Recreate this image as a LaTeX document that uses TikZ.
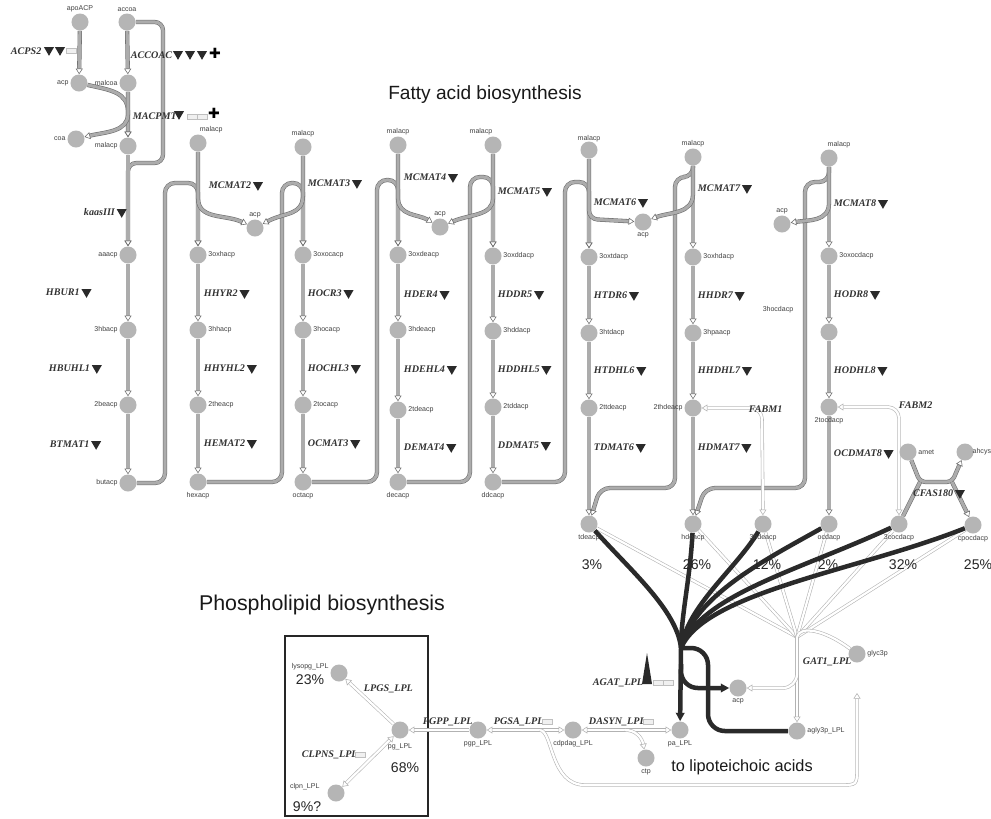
\documentclass[tikz,border=0pt]{standalone}
\usepackage{fontspec}
\setmainfont{Liberation Serif}
\setsansfont{Liberation Sans}
\newfontfamily\symfont{DejaVu Sans}
\usetikzlibrary{positioning,shapes.geometric,arrows.meta}
\definecolor{metgray}{HTML}{B5B5B5}
\definecolor{fluxdark}{HTML}{2A2A2A}
\pgfdeclarelayer{bg}
\pgfdeclarelayer{paper}
\pgfsetlayers{paper,bg,main}

\tikzset{
  met/.style={circle, fill=metgray, minimum size=0.425cm, inner sep=0pt},
  mlab/.style={font=\sffamily\fontsize{5}{5}\selectfont, text=black!75, inner sep=1pt},
  rxn/.style={draw=gray!85!black, double=gray!65, double distance=2.2pt, line width=0.4pt},
  rxnw/.style={draw=gray!60, double=white, double distance=1.6pt, line width=0.4pt},
  flux/.style={draw=fluxdark, line width=3.2pt},
  tip/.style={-{Triangle[open, length=4pt, width=5pt]}},
  tips/.style={{Triangle[open, length=4pt, width=5pt]}-{Triangle[open, length=4pt, width=5pt]}},
  ftip/.style={-{Triangle[length=6pt, width=6pt]}},
  enz/.style={font=\fontsize{7.2}{8}\selectfont\bfseries\itshape, text=black!80, inner sep=0.5pt, anchor=west},
  dtri/.style={regular polygon, regular polygon sides=3, shape border rotate=180, fill=fluxdark, minimum size=0.29cm, inner sep=0pt},
  enzd/.style={enz, label={[dtri, xshift=1.5pt]right:}},
  gbox/.style={draw=gray!50, fill=gray!12, minimum width=0.25cm, minimum height=0.12cm, inner sep=0pt},
  plusmark/.style={font=\symfont\fontsize{10}{10}\selectfont, inner sep=0pt},
  pct/.style={font=\sffamily\fontsize{10}{12}\selectfont, text=black!85},
  heading/.style={font=\sffamily\fontsize{13.6}{16}\selectfont, text=black!90}
}

\begin{document}
\begin{tikzpicture}[x=0.025cm, y=-0.025cm]
  \begin{pgfonlayer}{paper}
  \fill[white] (0,0) rectangle (991,818);
  \end{pgfonlayer}
  \useasboundingbox (0,0) rectangle (991,818);

  % headings
  \node[heading] (fattitle) at (485,95) {Fatty acid biosynthesis};
  \node[heading, font=\sffamily\fontsize{15.2}{18}\selectfont] (phostitle) at (322,605) {Phospholipid biosynthesis};
  \node[heading, font=\sffamily\fontsize{11.6}{14}\selectfont] (ltatext) at (742,767) {to lipoteichoic acids};

  % ---- column 1 (butyryl) ----
  \node[met, label={[mlab]above:apoACP}] (apoacp) at (80,22) {};
  \node[met, label={[mlab]above:accoa}] (accoa) at (127,22) {};
  \node[met, label={[mlab]left:acp}] (acpa) at (79,83) {};
  \node[met, label={[mlab]left:malcoa}] (malcoa) at (128,83) {};
  \node[met, label={[mlab]left:coa}] (coa) at (76,139) {};
  \node[met, label={[mlab]left:malacp}] (malacpa) at (128,146) {};
  \node[met, label={[mlab]left:aaacp}] (aaacp) at (128,255) {};
  \node[met, label={[mlab]left:3hbacp}] (hbacp) at (128,330) {};
  \node[met, label={[mlab]left:2beacp}] (beacp) at (128,405) {};
  \node[met, label={[mlab]left:butacp}] (butacp) at (128,483) {};

  % ---- column 2 (hexanoyl) ----
  \node[met, label={[mlab, xshift=0.33cm]above:malacp}] (malacpb) at (198,143) {};
  \node[met, label={[mlab]above:acp}] (acpb) at (255,228) {};
  \node[met, label={[mlab]right:3oxhacp}] (ohex) at (198,255) {};
  \node[met, label={[mlab]right:3hhacp}] (hhex) at (198,330) {};
  \node[met, label={[mlab]right:2theacp}] (thex) at (198,405) {};
  \node[met, label={[mlab]below:hexacp}] (hexacp) at (198,482) {};

  % ---- column 3 (octanoyl) ----
  \node[met, label={[mlab]above:malacp}] (malacpc) at (303,147) {};
  \node[met, label={[mlab]right:3oxocacp}] (ooct) at (303,255) {};
  \node[met, label={[mlab]right:3hocacp}] (hoct) at (303,330) {};
  \node[met, label={[mlab]right:2tocacp}] (toct) at (303,405) {};
  \node[met, label={[mlab]below:octacp}] (octacp) at (303,482) {};

  % ---- column 4 (decanoyl) ----
  \node[met, label={[mlab]above:malacp}] (malacpd) at (398,145) {};
  \node[met, label={[mlab]above:acp}] (acpc) at (440,227) {};
  \node[met, label={[mlab]right:3oxdeacp}] (odec) at (398,255) {};
  \node[met, label={[mlab]right:3hdeacp}] (hdec) at (398,330) {};
  \node[met, label={[mlab]right:2tdeacp}] (tdec) at (398,410) {};
  \node[met, label={[mlab]below:decacp}] (decacp) at (398,482) {};

  % ---- column 5 (dodecanoyl) ----
  \node[met, label={[mlab, xshift=-0.3cm]above:malacp}] (malacpe) at (493,145) {};
  \node[met, label={[mlab]right:3oxddacp}] (oddc) at (493,256) {};
  \node[met, label={[mlab]right:3hddacp}] (hddc) at (493,331) {};
  \node[met, label={[mlab]right:2tddacp}] (tddc) at (493,407) {};
  \node[met, label={[mlab]below:ddcacp}] (ddcacp) at (493,482) {};

  % ---- column 6 (tetradecanoyl) ----
  \node[met, label={[mlab, yshift=-2pt]above:malacp}] (malacpf) at (589,150) {};
  \node[met, label={[mlab]below:acp}] (acpd) at (643,222) {};
  \node[met, label={[mlab]right:3oxtdacp}] (otd) at (589,257) {};
  \node[met, label={[mlab]right:3htdacp}] (htd) at (589,333) {};
  \node[met, label={[mlab]right:2ttdeacp}] (ttd) at (589,408) {};

  % ---- column 7 (hexadecanoyl) ----
  \node[met, label={[mlab]above:malacp}] (malacpg) at (693,157) {};
  \node[met, label={[mlab]right:3oxhdacp}] (ohd) at (693,257) {};
  \node[met, label={[mlab]right:3hpaacp}] (hpa) at (693,333) {};
  \node[met, label={[mlab]left:2thdeacp}] (thd) at (693,408) {};

  % ---- column 8 (octadecanoyl) ----
  \node[met, label={[mlab, xshift=0.25cm]above:malacp}] (malacph) at (829,158) {};
  \node[met, label={[mlab]above:acp}] (acpe) at (782,224) {};
  \node[met, label={[mlab]right:3oxocdacp}] (ooc) at (829,256) {};
  \node[met, label={[mlab, xshift=-1.275cm, yshift=0.55cm]center:3hocdacp}] (hoc) at (829,332) {};
  \node[met, label={[mlab]below:2tocdacp}] (toc) at (829,407) {};
  \node[met, label={[mlab]right:amet}] (amet) at (908,452) {};
  \node[met, label={[mlab, xshift=-2pt]right:ahcys}] (ahcys) at (965,452) {};

  % ---- acyl-ACP pool ----
  \node[met, label={[mlab]below:tdeacp}] (tdeacp) at (589,524) {};
  \node[met, label={[mlab]below:hdeacp}] (hdeacp) at (693,524) {};
  \node[met, label={[mlab]below:3hdeacp}] (chdeacp) at (763,524) {};
  \node[met, label={[mlab]below:ocdacp}] (ocdacp) at (829,524) {};
  \node[met, label={[mlab]below:3cocdacp}] (cocdacp) at (899,524) {};
  \node[met, label={[mlab]below:cpocdacp}] (cpocdacp) at (973,525) {};

  \node[pct] (ptde) at (592,565) {3\%};
  \node[pct] (phde) at (697,565) {26\%};
  \node[pct] (pchde) at (767,565) {12\%};
  \node[pct] (pocd) at (828,565) {2\%};
  \node[pct] (pcocd) at (903,565) {32\%};
  \node[pct] (pcpocd) at (978,565) {25\%};

  % ---- phospholipids ----
  \node[met, label={[mlab]below:pa\_LPL}] (palpl) at (680,730) {};
  \node[met, label={[mlab]below:acp}] (acpf) at (738,688) {};
  \node[met, label={[mlab]right:agly3p\_LPL}] (agly3p) at (797,731) {};
  \node[met, label={[mlab]right:glyc3p}] (glyc3p) at (857,654) {};
  \node[met, label={[mlab]below:ctp}] (ctp) at (646,758) {};
  \node[met, label={[mlab]below:cdpdag\_LPL}] (cdpdag) at (573,730) {};
  \node[met, label={[mlab]below:pgp\_LPL}] (pgplpl) at (478,730) {};
  \node[met, label={[mlab, yshift=-2pt]below:pg\_LPL}] (pglpl) at (400,730) {};
  \node[met, label={[mlab, xshift=-0.72cm, yshift=0.15cm]center:lysopg\_LPL}] (lysopg) at (339,673) {};
  \node[met, label={[mlab, xshift=-0.78cm, yshift=0.15cm]center:clpn\_LPL}] (clpn) at (336,793) {};
  \node[pct] (plyso) at (310,680) {23\%};
  \node[pct] (pclpn) at (307,807) {9\%?};
  \node[pct] (ppg) at (405,768) {68\%};

  \coordinate (fj) at (681,648);
  \coordinate (wj) at (797,637);
  \coordinate (pgsaj) at (540,730);
  \coordinate (dasj) at (625,730);
  \coordinate (g3pin) at (857,693);

  % ---- enzymes ----
  \node[enz] (acps) at (10,51) {ACPS2};
  \node[dtri] (acpsta) at (49,50) {};
  \node[dtri] (acpstb) at (60,50) {};
  \node[gbox] (acpsbx) at (71,51) {};
  \node[enz] (accoac) at (130,55) {ACCOAC};
  \node[dtri] (accta) at (178,54) {};
  \node[dtri] (acctb) at (190,54) {};
  \node[dtri] (acctc) at (202,54) {};
  \node[plusmark] (accpl) at (215,53) {✚};
  \node[enz] (macpmt) at (132,116) {MACPMT};
  \node[dtri] (macta) at (179,114) {};
  \node[gbox] (macbxa) at (192,117) {};
  \node[gbox] (macbxb) at (202,117) {};
  \node[plusmark] (macpl) at (214,113) {✚};
  \node[enzd] (kaas) at (83,212) {kaasIII};
  \node[enzd] (hbur) at (45,292) {HBUR1};
  \node[enzd] (hbuhl) at (48,368) {HBUHL1};
  \node[enzd] (btmat) at (49,444) {BTMAT1};
  \node[enzd] (mcmatb) at (208,185) {MCMAT2};
  \node[enzd] (hhyr) at (203,293) {HHYR2};
  \node[enzd] (hhyhl) at (203,368) {HHYHL2};
  \node[enzd] (hemat) at (203,443) {HEMAT2};
  \node[enzd] (mcmatc) at (307,183) {MCMAT3};
  \node[enzd] (hocr) at (307,293) {HOCR3};
  \node[enzd] (hochl) at (307,368) {HOCHL3};
  \node[enzd] (ocmat) at (307,443) {OCMAT3};
  \node[enzd] (mcmatd) at (403,177) {MCMAT4};
  \node[enzd] (hder) at (403,294) {HDER4};
  \node[enzd] (hdehl) at (403,369) {HDEHL4};
  \node[enzd] (demat) at (403,447) {DEMAT4};
  \node[enzd] (mcmate) at (497,191) {MCMAT5};
  \node[enzd] (hddr) at (497,294) {HDDR5};
  \node[enzd] (hddhl) at (497,369) {HDDHL5};
  \node[enzd] (ddmat) at (497,445) {DDMAT5};
  \node[enzd] (mcmatf) at (593,202) {MCMAT6};
  \node[enzd] (htdr) at (593,295) {HTDR6};
  \node[enzd] (htdhl) at (593,370) {HTDHL6};
  \node[enzd] (tdmat) at (593,447) {TDMAT6};
  \node[enzd] (mcmatg) at (697,188) {MCMAT7};
  \node[enzd] (hhdr) at (697,295) {HHDR7};
  \node[enzd] (hhdhl) at (697,370) {HHDHL7};
  \node[enzd] (hdmat) at (697,447) {HDMAT7};
  \node[enzd] (mcmath) at (833,203) {MCMAT8};
  \node[enzd] (hodr) at (833,294) {HODR8};
  \node[enzd] (hodhl) at (833,370) {HODHL8};
  \node[enzd] (ocdmat) at (833,453) {OCDMAT8};
  \node[enz] (fabma) at (748,409) {FABM1};
  \node[enz] (fabmb) at (898,405) {FABM2};
  \node[enzd] (cfas) at (912,493) {CFAS180};
  \node[enz] (agat) at (592,683) {AGAT\_LPL};
  \fill[fluxdark] (642,684) -- (647,653) -- (652,684) -- cycle;
  \node[gbox] (agatbxa) at (658,683) {};
  \node[gbox] (agatbxb) at (668,683) {};
  \node[enz] (gat) at (802,662) {GAT1\_LPL};
  \node[enz] (pgsa) at (493,722) {PGSA\_LPL};
  \node[gbox] (pgsabx) at (547,722) {};
  \node[enz] (dasyn) at (588,722) {DASYN\_LPL};
  \node[gbox] (dasynbx) at (648,722) {};
  \node[enz] (pgpp) at (422,722) {PGPP\_LPL};
  \node[enz] (lpgs) at (363,689) {LPGS\_LPL};
  \node[enz] (clpns) at (301,755) {CLPNS\_LPL};
  \node[gbox] (clpnsbx) at (360,755) {};

  \begin{pgfonlayer}{bg}
  \draw[line width=1.2pt, gray!30!black] (285,636) rectangle (428,816);

  % ---- fatty acid reactions ----
  \draw[rxn, tip] (apoacp) -- (acpa);
  \draw[rxn, tip] (accoa) -- (malcoa);
  \draw[rxn, tip] (malcoa) -- (malacpa);
  \draw[rxn, tip] (acpa) .. controls (110,90) and (128,92) .. (128,112) -- (malacpa);
  \draw[rxn, tip] (malcoa) -- (128,114) .. controls (128,132) and (105,132) .. (coa);
  \draw[rxn, tip, rounded corners=6] (accoa) -- (163,22) -- (163,163) -- (128,163) -- (aaacp);
  \draw[rxn, tip] (malacpa) -- (aaacp);
  \draw[rxn, tip] (aaacp) -- (hbacp);
  \draw[rxn, tip] (hbacp) -- (beacp);
  \draw[rxn, tip] (beacp) -- (butacp);

  \draw[rxn, tip, rounded corners=7] (butacp) -- (165,483) -- (165,183) -- (198,183) -- (ohex);
  \draw[rxn, tip] (malacpb) -- (ohex);
  \draw[rxn, tip] (malacpb) -- (198,198) .. controls (198,220) and (225,214) .. (acpb);
  \draw[rxn, tip] (ohex) -- (hhex);
  \draw[rxn, tip] (hhex) -- (thex);
  \draw[rxn, tip] (thex) -- (hexacp);

  \draw[rxn, tip, rounded corners=7] (hexacp) -- (282,482) -- (282,183) -- (303,183) -- (ooct);
  \draw[rxn, tip] (malacpc) -- (ooct);
  \draw[rxn, tip] (malacpc) -- (303,195) .. controls (303,216) and (285,212) .. (acpb);
  \draw[rxn, tip] (ooct) -- (hoct);
  \draw[rxn, tip] (hoct) -- (toct);
  \draw[rxn, tip] (toct) -- (octacp);

  \draw[rxn, tip, rounded corners=7] (octacp) -- (377,482) -- (377,180) -- (398,180) -- (odec);
  \draw[rxn, tip] (malacpd) -- (odec);
  \draw[rxn, tip] (malacpd) -- (398,198) .. controls (398,216) and (418,214) .. (acpc);
  \draw[rxn, tip] (odec) -- (hdec);
  \draw[rxn, tip] (hdec) -- (tdec);
  \draw[rxn, tip] (tdec) -- (decacp);

  \draw[rxn, tip, rounded corners=7] (decacp) -- (470,482) -- (470,177) -- (493,177) -- (oddc);
  \draw[rxn, tip] (malacpe) -- (oddc);
  \draw[rxn, tip] (malacpe) -- (493,198) .. controls (493,216) and (470,214) .. (acpc);
  \draw[rxn, tip] (oddc) -- (hddc);
  \draw[rxn, tip] (hddc) -- (tddc);
  \draw[rxn, tip] (tddc) -- (ddcacp);

  \draw[rxn, tip, rounded corners=7] (ddcacp) -- (565,482) -- (565,182) -- (589,182) -- (otd);
  \draw[rxn, tip] (malacpf) -- (otd);
  \draw[rxn, tip, rounded corners=6] (malacpf) -- (589,219) -- (acpd);
  \draw[rxn, tip] (otd) -- (htd);
  \draw[rxn, tip] (htd) -- (ttd);
  \draw[rxn, tip] (ttd) -- (tdeacp);

  \draw[rxn, tip, rounded corners=7] (malacpg) -- (693,177) -- (675,177) -- (675,488) -- (600,488) -- (tdeacp);
  \draw[rxn, tip] (malacpg) -- (ohd);
  \draw[rxn, tip] (malacpg) -- (693,194) .. controls (693,214) and (670,212) .. (acpd);
  \draw[rxn, tip] (ohd) -- (hpa);
  \draw[rxn, tip] (hpa) -- (thd);
  \draw[rxn, tip] (thd) -- (hdeacp);

  \draw[rxn, tip, rounded corners=7] (malacph) -- (829,182) -- (805,182) -- (805,488) -- (705,488) -- (hdeacp);
  \draw[rxn, tip] (malacph) -- (ooc);
  \draw[rxn, tip] (malacph) -- (829,203) .. controls (829,222) and (808,220) .. (acpe);
  \draw[rxn, tip] (ooc) -- (hoc);
  \draw[rxn, tip] (hoc) -- (toc);
  \draw[rxn, tip] (toc) -- (ocdacp);

  \draw[rxnw, tips, rounded corners=8] (thd) -- (762,408) -- (chdeacp);
  \draw[rxnw, tips, rounded corners=8] (toc) -- (899,407) -- (cocdacp);

  \draw[rxn, tip, rounded corners=4] (amet) -- (920,482) -- (952,482) -- (ahcys);
  \draw[rxn] (cocdacp) -- (920,482);
  \draw[rxn, tip] (952,482) -- (cpocdacp);

  % ---- GAT1 (white fan) ----
  \foreach \acyl in {tdeacp, hdeacp, chdeacp, ocdacp, cocdacp, cpocdacp}
    \draw[rxnw] (\acyl) -- (wj);
  \draw[rxnw] (glyc3p) .. controls (825,630) and (800,625) .. (wj);
  \draw[rxnw, tip] (wj) -- (agly3p);
  \draw[rxnw, tip, rounded corners=10] (wj) -- (797,688) -- (acpf);

  % ---- AGAT (black fan) ----
  \draw[flux] (tdeacp) .. controls (630,570) and (677,610) .. (fj);
  \draw[flux] (hdeacp) .. controls (690,580) and (681,615) .. (fj);
  \draw[flux] (chdeacp) .. controls (735,570) and (688,605) .. (fj);
  \draw[flux] (ocdacp) .. controls (765,560) and (695,595) .. (fj);
  \draw[flux] (cocdacp) .. controls (800,570) and (700,595) .. (fj);
  \draw[flux] (cpocdacp) .. controls (860,570) and (705,592) .. (fj);
  \draw[flux, ftip] (fj) -- (palpl);
  \draw[flux, ftip, rounded corners=12] (681,664) -- (681,688) -- (acpf);
  \draw[flux, rounded corners=12] (fj) -- (708,648) -- (708,731) -- (agly3p);

  % ---- phospholipid reactions ----
  \draw[rxnw, tips] (cdpdag) -- (palpl);
  \draw[rxnw, tip] (dasj) .. controls (636,730) and (642,738) .. (ctp);
  \draw[rxnw, tips] (pgplpl) -- (cdpdag);
  \draw[rxnw, tip] (pgsaj) .. controls (553,731) and (550,785) .. (585,785) -- (840,785) .. controls (857,785) .. (857,768) -- (g3pin);
  \draw[rxnw, tip] (pgplpl) -- (pglpl);
  \draw[rxnw, tip] (pglpl) -- (lysopg);
  \draw[rxnw, tips] (pglpl) -- (clpn);
  \end{pgfonlayer}
\end{tikzpicture}
\end{document}
